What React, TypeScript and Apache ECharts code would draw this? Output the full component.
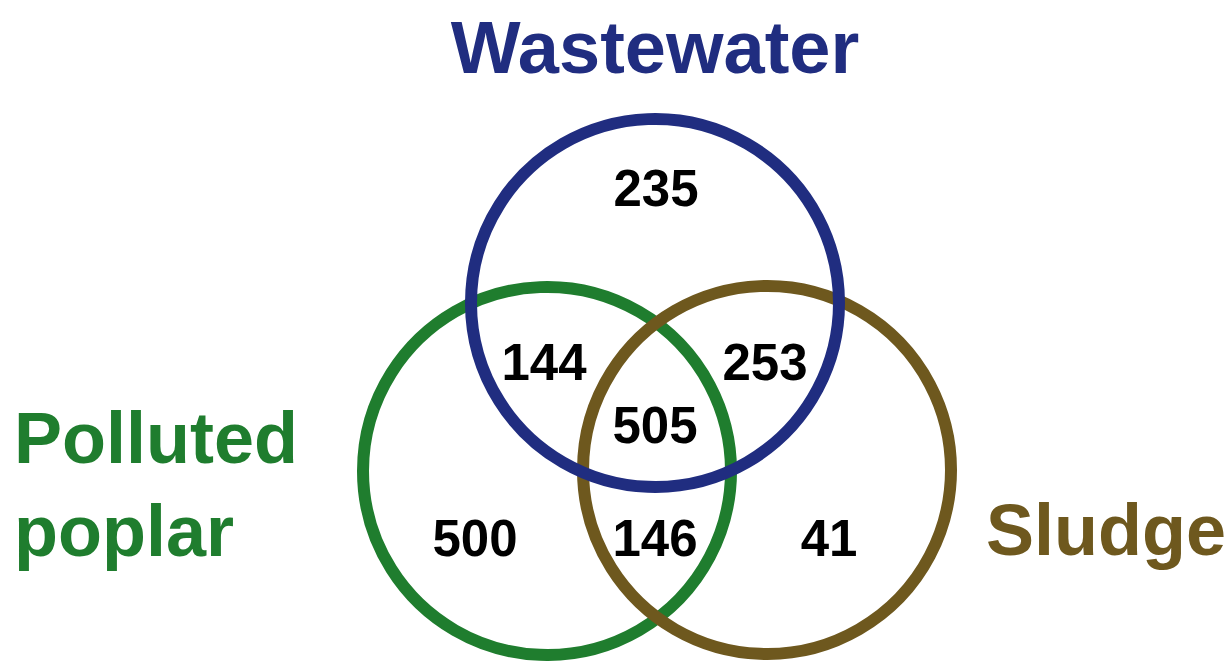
import React, { useEffect, useRef } from "react";
import * as echarts from "echarts";

// Sets of the Venn diagram
const setNames = ["Wastewater", "Polluted\npoplar", "Sludge"];
const setColors = ["#202d80", "#1f7d2e", "#6e581e"];
const setFontSizes = [74, 72, 72];
// Region counts
const regionLabels = ["W only", "W∩P", "W∩S", "W∩P∩S", "P only", "P∩S", "S only"];
const regionCounts = [235, 144, 253, 505, 500, 146, 41];

// layout (pixels)
const circleCenters = [
  [655, 303],
  [547, 471],
  [767, 470],
];
const circleR = 184;
const regionPos = [
  [656, 188],
  [544, 362],
  [765, 362],
  [655, 425],
  [475, 538],
  [655, 538],
  [829, 538],
];
const namePos: Array<{ x: number; y: number; align: string }> = [
  { x: 655, y: 47, align: "center" },
  { x: 14, y: 484, align: "left" },
  { x: 986, y: 530, align: "left" },
];

export default function App() {
  const ref = useRef<HTMLDivElement>(null);
  useEffect(() => {
    if (!ref.current) return;
    const chart = echarts.init(ref.current, undefined, { renderer: "svg" });
    const font = "'Liberation Sans', Arial, Helvetica, sans-serif";
    const elements: any[] = [];
    circleCenters.forEach((c, i) => {
      elements.push({
        type: "circle",
        shape: { cx: c[0], cy: c[1], r: circleR },
        style: { fill: "none", stroke: setColors[i], lineWidth: 12 },
        z: i === 0 ? 3 : i === 2 ? 2 : 1,
      });
    });
    setNames.forEach((n, i) => {
      elements.push({
        type: "text",
        x: namePos[i].x,
        y: namePos[i].y,
        style: {
          text: n,
          fill: setColors[i],
          fontFamily: font,
          fontWeight: "bold",
          fontSize: setFontSizes[i],
          lineHeight: 93,
          align: namePos[i].align,
          verticalAlign: "middle",
        },
      });
    });
    regionCounts.forEach((v, i) => {
      elements.push({
        type: "text",
        x: regionPos[i][0],
        y: regionPos[i][1],
        name: regionLabels[i],
        style: {
          text: String(v),
          fill: "#000",
          fontFamily: font,
          fontWeight: "bold",
          fontSize: 51,
          align: "center",
          verticalAlign: "middle",
        },
        z: 10,
      });
    });
    chart.setOption({
      animation: false,
      backgroundColor: "#ffffff",
      graphic: { elements },
    });
    return () => chart.dispose();
  }, []);
  return <div ref={ref} style={{ width: 1226, height: 661, position: "absolute", left: 0, top: 0 }} />;
}
